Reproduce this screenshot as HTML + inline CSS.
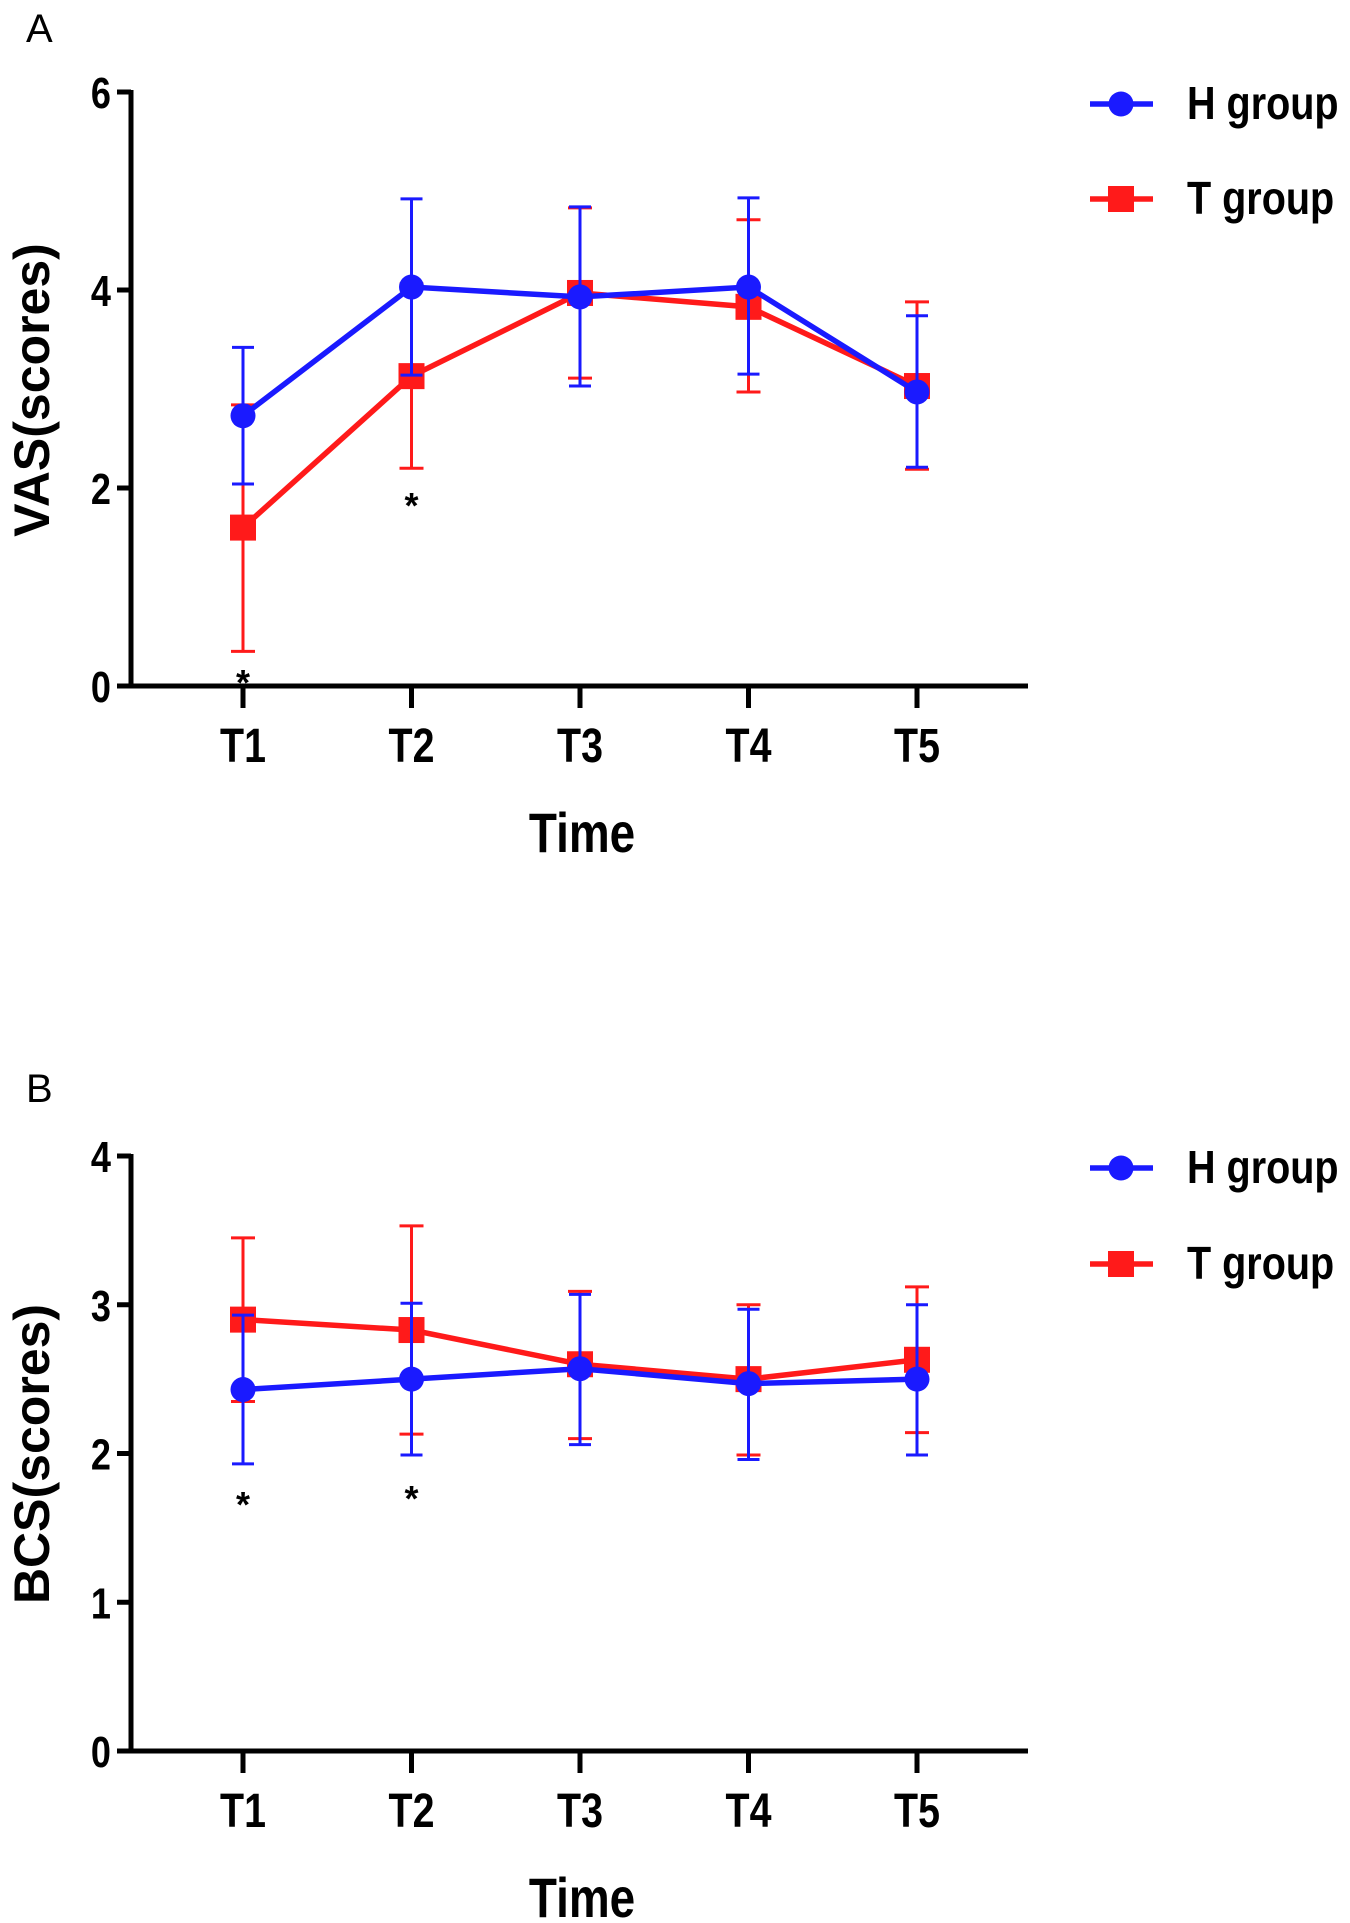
<!DOCTYPE html>
<html><head><meta charset="utf-8"><style>
html,body{margin:0;padding:0;background:#fff}
svg{display:block}
text{font-family:"Liberation Sans Narrow","Liberation Sans",sans-serif;font-weight:bold;fill:#000}
</style></head><body>
<svg id="chart" width="1350" height="1923" viewBox="0 0 1350 1923" xmlns="http://www.w3.org/2000/svg"></svg>
<script>
const categories = ["T1","T2","T3","T4","T5"];
const vasH = [2.73, 4.03, 3.93, 4.03, 2.97];
const vasHLo = [2.04, 3.14, 3.03, 3.15, 2.21];
const vasHHi = [3.42, 4.92, 4.84, 4.93, 3.74];
const vasT = [1.6, 3.13, 3.97, 3.83, 3.03];
const vasTLo = [0.35, 2.2, 3.11, 2.97, 2.19];
const vasTHi = [2.84, 4.06, 4.83, 4.71, 3.88];
const vasTicks = [0, 2, 4, 6];
const vasStars = [[0, 0.13], [1, 1.92]];
const bcsH = [2.43, 2.5, 2.57, 2.47, 2.5];
const bcsHLo = [1.93, 1.99, 2.06, 1.96, 1.99];
const bcsHHi = [2.93, 3.01, 3.07, 2.97, 3.0];
const bcsT = [2.9, 2.83, 2.6, 2.5, 2.63];
const bcsTLo = [2.35, 2.13, 2.1, 1.99, 2.14];
const bcsTHi = [3.45, 3.53, 3.09, 3.0, 3.12];
const bcsTicks = [0, 1, 2, 3, 4];
const bcsStars = [[0, 1.72], [1, 1.76]];

const NS = "http://www.w3.org/2000/svg";
const svg = document.getElementById("chart");
function el(tag, attrs, parent, txt){
  const e = document.createElementNS(NS, tag);
  for (const k in attrs) e.setAttribute(k, attrs[k]);
  if (txt !== undefined) e.textContent = txt;
  (parent || svg).appendChild(e);
  return e;
}
function ntext(x, y, size, anchor, str, parent, sx){
  return el("text", {x: 0, y: 0, "font-size": size, "text-anchor": anchor, transform: `translate(${x},${y}) scale(${sx || 0.82},1)`}, parent, str);
}
const BLUE = "#1a1aff", RED = "#ff1a1a";
function xPos(i){ return 243 + i * 168.5; }

function panel(o){
  const g = el("g", {});
  
  
  const y = v => o.y0 - (v / o.max) * (o.y0 - o.yTop);
  const lab = el("text", {x: 26, y: o.labelY, "font-size": 40, style: "font-weight:normal;font-family:'Liberation Sans',sans-serif"}, g, o.letter);
  
  
  const ya = el("line", {x1: 131, y1: o.yTop - 2, x2: 131, y2: o.y0 + 2, stroke: "#000", "stroke-width": 5}, g);
  
  
  const xa = el("line", {x1: 129, y1: o.y0, x2: 1028, y2: o.y0, stroke: "#000", "stroke-width": 5}, g);
  
  
  o.ticks.forEach(t => {
    const tk = el("line", {x1: 117, y1: y(t), x2: 131, y2: y(t), stroke: "#000", "stroke-width": 5}, g);
    
    
    const tl = ntext(111, y(t) + 16, 44, "end", String(t), g);
    
    
  });
  categories.forEach((c, i) => {
    const tk = el("line", {x1: xPos(i), y1: o.y0, x2: xPos(i), y2: o.y0 + 22, stroke: "#000", "stroke-width": 5}, g);
    
    
    const tl = ntext(xPos(i), o.y0 + 76, 48, "middle", c, g);
    
    
  });
  const xt = ntext(582, o.y0 + 166, 56, "middle", "Time", g);
  
  
  const yt = el("text", {x: 0, y: 0, "font-size": 50, "text-anchor": "middle", transform: `translate(49,${o.titleY}) rotate(-90)`, style: "font-family:'Liberation Sans',sans-serif"}, g, o.title);
  
  

  function series(vals, lo, hi, col, shape, name, cap){
    const sg = el("g", {}, g);
    
    
    vals.forEach((v, i) => {
      const eb = el("g", {stroke: col, "stroke-width": 3}, sg);
      
      
      el("line", {x1: xPos(i), y1: y(lo[i]), x2: xPos(i), y2: y(hi[i])}, eb);
      el("line", {x1: xPos(i) - cap, y1: y(lo[i]), x2: xPos(i) + cap, y2: y(lo[i])}, eb);
      el("line", {x1: xPos(i) - cap, y1: y(hi[i]), x2: xPos(i) + cap, y2: y(hi[i])}, eb);
    });
    const pts = vals.map((v, i) => xPos(i) + "," + y(v)).join(" ");
    const ln = el("polyline", {points: pts, fill: "none", stroke: col, "stroke-width": 5.5}, sg);
    
    
    vals.forEach((v, i) => {
      let m;
      if (shape === "circle") m = el("circle", {cx: xPos(i), cy: y(v), r: 12.5, fill: col}, sg);
      else m = el("rect", {x: xPos(i) - 13, y: y(v) - 13, width: 26, height: 26, fill: col}, sg);
      
      
    });
  }
  series(o.T, o.TLo, o.THi, RED, "rect", "t-group-series", 12);
  series(o.H, o.HLo, o.HHi, BLUE, "circle", "h-group-series", 11);
  o.stars.forEach(s => {
    const st = el("text", {x: xPos(s[0]), y: y(s[1]) + 22, "font-size": 36, "text-anchor": "middle", style: "font-family:'Liberation Sans',sans-serif"}, g, "*");
    
    
  });
  [[o.legH, BLUE, "circle", "H group"], [o.legT, RED, "rect", "T group"]].forEach(L => {
    const lg = el("g", {}, g);
    
    
    el("line", {x1: 1090, y1: L[0], x2: 1153, y2: L[0], stroke: L[1], "stroke-width": 5.5}, lg);
    if (L[2] === "circle") el("circle", {cx: 1121, cy: L[0], r: 12.5, fill: L[1]}, lg);
    else el("rect", {x: 1108, y: L[0] - 13, width: 26, height: 26, fill: L[1]}, lg);
    ntext(1187, L[0] + 15, 46, "start", L[3], lg, 0.86);
  });
}

panel({name: "vas-panel", letter: "A", labelY: 42, yTop: 92, y0: 686, max: 6, ticks: vasTicks,
  title: "VAS(scores)", titleY: 390, H: vasH, HLo: vasHLo, HHi: vasHHi, T: vasT, TLo: vasTLo, THi: vasTHi,
  stars: vasStars, legH: 104, legT: 199});
panel({name: "bcs-panel", letter: "B", labelY: 1102, yTop: 1156, y0: 1751, max: 4, ticks: bcsTicks,
  title: "BCS(scores)", titleY: 1454, H: bcsH, HLo: bcsHLo, HHi: bcsHHi, T: bcsT, TLo: bcsTLo, THi: bcsTHi,
  stars: bcsStars, legH: 1168, legT: 1264});
</script>
</body></html>
